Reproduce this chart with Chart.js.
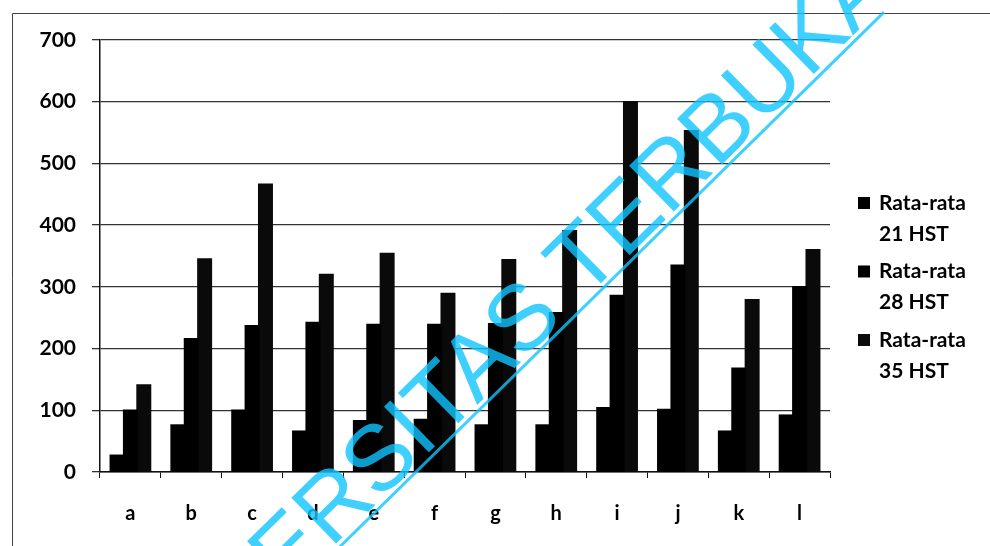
<!DOCTYPE html>
<html>
<head>
<meta charset="utf-8">
<script src="https://cdn.jsdelivr.net/npm/chart.js@4"></script>
<style>
  html, body { margin: 0; padding: 0; background: #fff; }
  #wrap { width: 990px; height: 546px; position: relative; }
</style>
</head>
<body>
<div id="wrap"><canvas id="chart"></canvas></div>
<script>
const categories = ['a', 'b', 'c', 'd', 'e', 'f', 'g', 'h', 'i', 'j', 'k', 'l'];
const seriesLabels = [['Rata-rata', '21 HST'], ['Rata-rata', '28 HST'], ['Rata-rata', '35 HST']];
const hst21 = [27, 76, 100, 66, 83, 85, 76, 76, 104, 101, 66, 92];
const hst28 = [100, 216, 237, 242, 239, 239, 240, 258, 286, 335, 168, 300];
const hst35 = [141, 345, 466, 320, 354, 289, 344, 391, 600, 553, 279, 360];
const yTicks = [0, 100, 200, 300, 400, 500, 600, 700];
const watermark = 'UNIVERSITAS TERBUKA';

const barColors = ['#000000', '#000000', '#0a0a0a'];
const FONT = 'Lato, Calibri, Carlito, sans-serif';

// frame lines, legend and the scanned watermark
const extras = {
    id: 'extras',
    beforeDraw(chart) {
        const ctx = chart.ctx;
        ctx.save();
        ctx.strokeStyle = '#444';
        ctx.lineWidth = 1;
        ctx.beginPath();
        ctx.moveTo(12.5, 546);
        ctx.lineTo(12.5, 13.5);
        ctx.lineTo(990, 13.5);
        ctx.stroke();
        ctx.restore();
    },
    afterDraw(chart) {
        const ctx = chart.ctx;
        const area = chart.chartArea;

        // legend
        ctx.save();
        ctx.font = 'bold 21px ' + FONT;
        ctx.textBaseline = 'middle';
        chart.data.datasets.forEach(function(ds, i) {
            const y = 203 + i * 68.5;
            ctx.fillStyle = ds.backgroundColor;
            ctx.fillRect(area.right + 28, y - 6, 12, 12);
            ctx.fillStyle = '#000';
            ds.label.forEach(function(line, j) {
                ctx.fillText(line, area.right + 49, y + j * 31);
            });
        });
        ctx.restore();

        // watermark
        ctx.save();
        ctx.translate(128, 748);
        ctx.rotate(-44.5 * Math.PI / 180);
        ctx.globalAlpha = 0.8;
        ctx.fillStyle = '#10c4ff';
        ctx.strokeStyle = '#10c4ff';
        ctx.font = '93px "Liberation Sans", Arial, sans-serif';
        ctx.textBaseline = 'alphabetic';
        ctx.fillText(watermark, 0, 0);
        ctx.lineWidth = 3;
        ctx.beginPath();
        ctx.moveTo(0, 5);
        ctx.lineTo(1055, 5);
        ctx.stroke();
        ctx.restore();
    }
};

new Chart(document.getElementById('chart'), {
    type: 'bar',
    data: {
        labels: categories,
        datasets: [hst21, hst28, hst35].map(function(values, i) {
            return {
                label: seriesLabels[i],
                data: values,
                backgroundColor: barColors[i],
                borderWidth: 0,
                inflateAmount: 0.8,
                barPercentage: 1.0,
                categoryPercentage: 0.66
            };
        })
    },
    options: {
        responsive: true,
        maintainAspectRatio: false,
        animation: false,
        layout: {
            padding: { left: 0, top: 40, right: 160, bottom: 0 }
        },
        plugins: {
            legend: { display: false },
            tooltip: { enabled: false }
        },
        scales: {
            x: {
                afterFit: function(scale) { scale.height = 74; },
                grid: {
                    offset: true,
                    drawOnChartArea: false,
                    drawTicks: true,
                    tickLength: 6,
                    color: '#111'
                },
                border: { display: true, color: '#111', width: 1.5 },
                ticks: {
                    color: '#000',
                    padding: 24,
                    font: { family: FONT, size: 20, weight: 'bold' }
                }
            },
            y: {
                min: 0,
                max: 700,
                afterFit: function(scale) { scale.width = 100; },
                afterBuildTicks: function(scale) {
                    scale.ticks = yTicks.map(function(v) { return { value: v }; });
                },
                grid: {
                    color: '#333',
                    lineWidth: 1.3,
                    drawTicks: true,
                    tickLength: 8
                },
                border: { display: true, color: '#111', width: 1.5 },
                ticks: {
                    color: '#000',
                    padding: 16,
                    font: { family: FONT, size: 21, weight: 'bold' }
                }
            }
        }
    },
    plugins: [extras]
});
</script>
</body>
</html>
